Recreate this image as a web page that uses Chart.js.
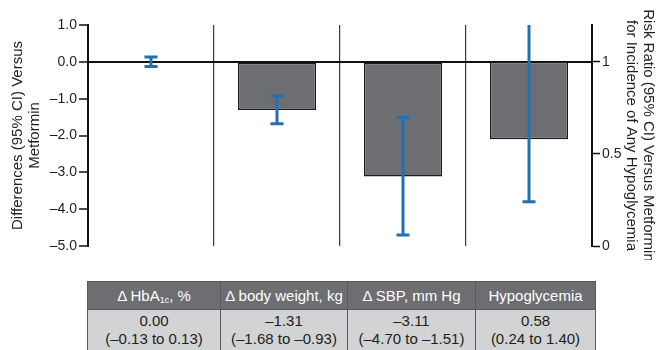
<!DOCTYPE html>
<html>
<head>
<meta charset="utf-8">
<script src="https://cdn.jsdelivr.net/npm/chart.js@4.4.1/dist/chart.umd.min.js"></script>
<style>
  html, body { margin: 0; padding: 0; background: #fff; }
  body { width: 660px; height: 350px; overflow: hidden; position: relative; font-family: "Liberation Sans", Arial, sans-serif; }
  #wrap { position: absolute; left: 0; top: 0; width: 660px; height: 260px; }
  #tbl { position: absolute; left: 87px; top: 281px; border-collapse: collapse; table-layout: fixed; }
  #tbl th, #tbl td { border: 1.5px solid #58595b; padding: 0; text-align: center; }
  #tbl th { background: #6d6e71; color: #fff; font-weight: normal; font-size: 15px; height: 27px; }
  #tbl th sub { font-size: 9px; vertical-align: -2px; line-height: 0; }
  #tbl td { background: #d1d3d4; color: #231f20; font-size: 15px; line-height: 18px; height: 60px; vertical-align: top; padding-top: 2px; }
</style>
</head>
<body>
<div id="wrap"><canvas id="chart" width="660" height="260"></canvas></div>
<table id="tbl"><thead><tr id="head"></tr></thead><tbody><tr id="vals"></tr></tbody></table>
<script>
// Outcomes vs metformin: first three are differences, last one is a risk ratio
const categories = ['Δ HbA<sub>1c</sub>, %', 'Δ body weight, kg', 'Δ SBP, mm Hg', 'Hypoglycemia'];
const estimates = [0.00, -1.31, -3.11, 0.58];
const lowerCI = [-0.13, -1.68, -4.70, 0.24];
const upperCI = [0.13, -0.93, -1.51, 1.40];
const riskTicks = [0, 0.5, 1];
const riskRef = 1;
const colWidths = [132, 126, 127, 119];

const isRisk = i => i === categories.length - 1;
const dash = v => (v < 0 ? '\u2013' : '') + Math.abs(v).toFixed(2);

// bars: differences hang from 0, risk ratio hangs from 1
const diffBars = estimates.map((v, i) => (isRisk(i) || v === 0) ? null : [v, 0]);
const riskBars = estimates.map((v, i) => isRisk(i) ? [v, riskRef] : null);

const barStyle = {
  backgroundColor: '#6d6e71',
  borderColor: '#1a1a1a',
  borderWidth: 1.5,
  borderSkipped: false,
  categoryPercentage: 1,
  barPercentage: 0.62,
  grouped: false
};

// error bars drawn over the bars, clipped to the plot area
const errorBars = {
  id: 'errorBars',
  afterDatasetsDraw(chart) {
    const { ctx, chartArea, scales } = chart;
    ctx.save();
    ctx.strokeStyle = '#2170b4';
    ctx.lineWidth = 3;
    estimates.forEach((v, i) => {
      const axis = isRisk(i) ? scales.y1 : scales.y;
      const x = scales.x.getPixelForValue(i);
      const y1 = axis.getPixelForValue(lowerCI[i]);
      const y2 = axis.getPixelForValue(upperCI[i]);
      const top = Math.max(Math.min(y1, y2), chartArea.top);
      const bot = Math.min(Math.max(y1, y2), chartArea.bottom);
      ctx.beginPath();
      ctx.moveTo(x, top);
      ctx.lineTo(x, bot);
      [y1, y2].forEach(y => {
        if (y >= chartArea.top && y <= chartArea.bottom) {
          ctx.moveTo(x - 6.5, y);
          ctx.lineTo(x + 6.5, y);
        }
      });
      ctx.stroke();
    });
    ctx.restore();
  }
};

const titleFont = { family: '"Liberation Sans", Arial, sans-serif', size: 15, lineHeight: '17px' };
const tickFont = { family: '"Liberation Sans", Arial, sans-serif', size: 14 };

new Chart(document.getElementById('chart'), {
  type: 'bar',
  data: {
    labels: categories,
    datasets: [
      Object.assign({ data: diffBars, yAxisID: 'y' }, barStyle),
      Object.assign({ data: riskBars, yAxisID: 'y1' }, barStyle)
    ]
  },
  options: {
    responsive: false,
    animation: false,
    layout: { padding: { top: 25 } },
    plugins: { legend: { display: false }, tooltip: { enabled: false } },
    scales: {
      x: {
        ticks: { display: false },
        border: { display: false },
        grid: { offset: true, color: '#3a3a3a', lineWidth: 1.2, drawTicks: false },
        afterFit: s => { s.height = 14; }
      },
      y: {
        position: 'left',
        min: -5,
        max: 1,
        ticks: {
          stepSize: 1,
          padding: 2,
          color: '#231f20',
          font: tickFont,
          callback: v => (v < 0 ? '\u2013' : '') + Math.abs(v).toFixed(1)
        },
        border: { color: '#111', width: 2 },
        grid: {
          color: c => c.tick && c.tick.value === 0 ? '#111' : 'rgba(0,0,0,0)',
          lineWidth: 2,
          tickColor: '#111',
          tickWidth: 1.5,
          tickLength: 9
        },
        title: {
          display: true,
          text: ['Differences (95% CI) Versus', 'Metformin'],
          color: '#231f20',
          font: titleFont,
          padding: { top: 9, bottom: 0 }
        },
        afterFit: s => { s.width = 88; }
      },
      y1: {
        position: 'right',
        min: 0,
        max: 1.2,
        afterBuildTicks: s => { s.ticks = riskTicks.map(v => ({ value: v })); },
        ticks: { padding: 2, color: '#231f20', font: tickFont, callback: v => String(v) },
        border: { color: '#111', width: 2 },
        grid: { drawOnChartArea: false, tickColor: '#111', tickWidth: 1.5, tickLength: 8 },
        title: {
          display: true,
          text: ['Risk Ratio (95% CI) Versus Metformin', 'for Incidence of Any Hypoglycemia'],
          color: '#231f20',
          font: titleFont,
          padding: { top: 3, bottom: 0 }
        },
        afterFit: s => { s.width = 68; }
      }
    }
  },
  plugins: [errorBars]
});

// summary table under the panels
const head = document.getElementById('head');
const vals = document.getElementById('vals');
categories.forEach((c, i) => {
  const th = document.createElement('th');
  th.style.width = colWidths[i] + 'px';
  th.innerHTML = c;
  head.appendChild(th);
  const td = document.createElement('td');
  td.innerHTML = dash(estimates[i]) + '<br>(' + dash(lowerCI[i]) + ' to ' + dash(upperCI[i]) + ')';
  vals.appendChild(td);
});
</script>
</body>
</html>
